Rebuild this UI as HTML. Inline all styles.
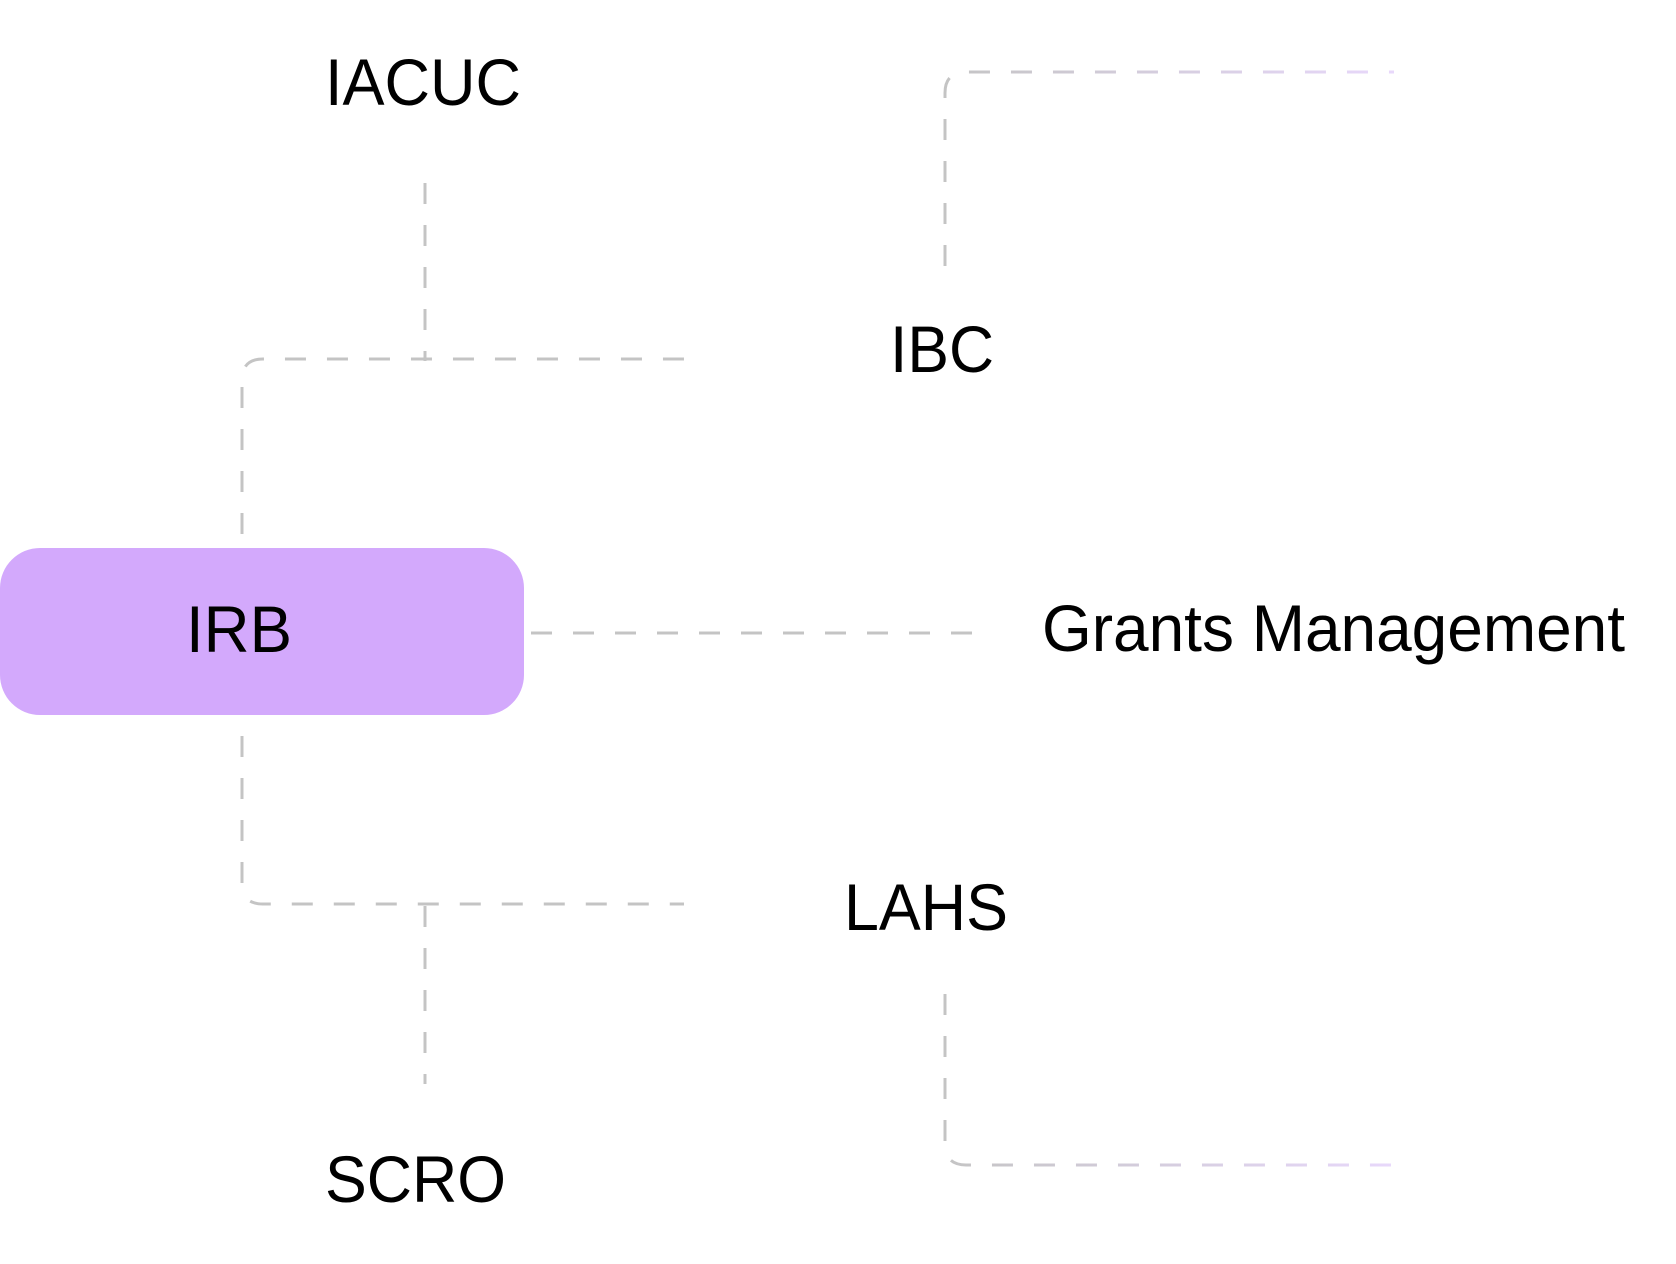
<!DOCTYPE html>
<html><head><meta charset="utf-8"><style>
html,body{margin:0;padding:0;background:#fff;}
svg{display:block;}
text{font-family:"Liberation Sans",sans-serif;fill:#000;}
</style></head><body>
<svg width="1676" height="1264" viewBox="0 0 1676 1264" xmlns="http://www.w3.org/2000/svg">
<defs>
<linearGradient id="fade" gradientUnits="userSpaceOnUse" x1="945" y1="0" x2="1395" y2="0">
<stop offset="0" stop-color="#c4c4c4"/><stop offset="1" stop-color="#e8d8fb"/>
</linearGradient>
</defs>
<g fill="none" stroke="#c4c4c4" stroke-width="3" stroke-dasharray="21 21">
<path d="M425 183 V361"/>
<path d="M242 534 V380 Q242 359 263 359 H684"/>
<path d="M242 736 V884 Q242 904 263 904 H684"/>
<path d="M425 906 V1084"/>
<path d="M531 633 H978"/>
</g>
<g fill="none" stroke="url(#fade)" stroke-width="3" stroke-dasharray="21 21">
<path d="M945 266 V93 Q945 72 966 72 H1394"/>
<path d="M945 994 V1144 Q945 1165 966 1165 H1394"/>
</g>
<rect x="0" y="548" width="524" height="167" rx="40" ry="40" fill="#d3a9fc"/>
<text x="186" y="652" font-size="66" textLength="106" lengthAdjust="spacingAndGlyphs">IRB</text>
<text x="325" y="105" font-size="66" textLength="196" lengthAdjust="spacingAndGlyphs">IACUC</text>
<text x="890" y="372" font-size="66" textLength="104" lengthAdjust="spacingAndGlyphs">IBC</text>
<text x="1042" y="651" font-size="66" textLength="583" lengthAdjust="spacingAndGlyphs">Grants Management</text>
<text x="844" y="930" font-size="66" textLength="164" lengthAdjust="spacingAndGlyphs">LAHS</text>
<text x="325" y="1202" font-size="66" textLength="181" lengthAdjust="spacingAndGlyphs">SCRO</text>
</svg>
</body></html>
